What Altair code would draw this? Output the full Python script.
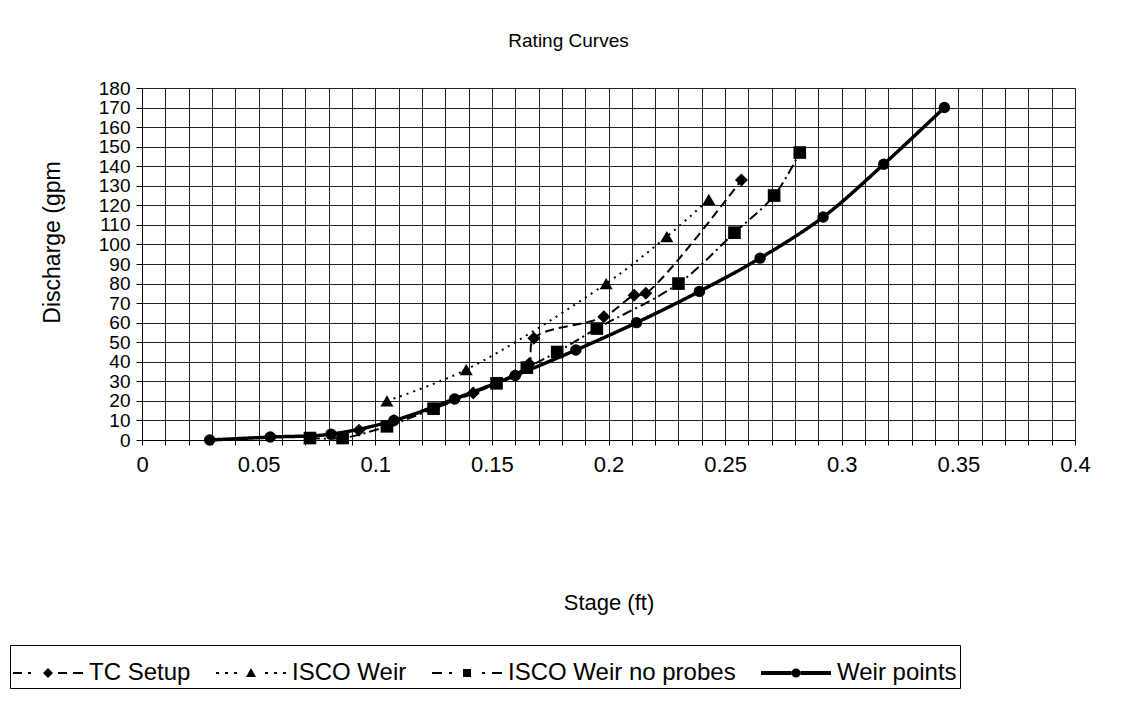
import altair as alt
import pandas as pd

series_names = ["TC Setup", "ISCO Weir", "ISCO Weir no probes", "Weir points"]

tc_stage = [0.093, 0.108, 0.125, 0.142, 0.160, 0.166, 0.168, 0.198, 0.211, 0.216, 0.257]
tc_q = [5, 10, 16, 24, 33, 39, 52, 63, 74, 75, 133]

isco_stage = [0.105, 0.139, 0.199, 0.225, 0.243]
isco_q = [20, 36, 80, 104, 123]

noprobe_stage = [0.072, 0.086, 0.105, 0.125, 0.152, 0.165, 0.178, 0.195, 0.230, 0.254, 0.271, 0.282]
noprobe_q = [1, 1, 7, 16, 29, 37, 45, 57, 80, 106, 125, 147]

weir_stage = [0.029, 0.055, 0.081, 0.108, 0.134, 0.160, 0.186, 0.212, 0.239, 0.265, 0.292, 0.318, 0.344]
weir_q = [0, 1.5, 3, 10, 21, 33, 46, 60, 76, 93, 114, 141, 170]

x_ticks = [round(i * 0.01, 2) for i in range(41)]
y_ticks = list(range(0, 181, 10))

rows = []
for name, xs, ys in [
    ("TC Setup", tc_stage, tc_q),
    ("ISCO Weir", isco_stage, isco_q),
    ("ISCO Weir no probes", noprobe_stage, noprobe_q),
    ("Weir points", weir_stage, weir_q),
]:
    for i, (a, b) in enumerate(zip(xs, ys)):
        rows.append({"series": name, "stage": a, "q": b, "order": i})
df = pd.DataFrame(rows)

FONT = "Liberation Sans"

x_enc = alt.X(
    "stage:Q",
    scale=alt.Scale(domain=[0, 0.4], nice=False, zero=False),
    axis=alt.Axis(
        values=x_ticks,
        labelExpr="abs(datum.value*20 - round(datum.value*20)) < 1e-6 ? format(datum.value, '~g') : ''",
        title="Stage (ft)",
        titlePadding=117,
        titleFontSize=22,
        titleFont=FONT,
        titleFontWeight="normal",
        titleColor="black",
        labelFontSize=22,
        labelFont=FONT,
        labelColor="black",
        labelPadding=9,
        labelOverlap=False,
        labelFlush=False,
        tickSize=5,
        tickColor="black",
        domainColor="black",
        grid=True,
        gridColor="#222222",
        gridWidth=1,
    ),
)
y_enc = alt.Y(
    "q:Q",
    scale=alt.Scale(domain=[0, 180], nice=False),
    axis=alt.Axis(
        values=y_ticks,
        title="Discharge (gpm",
        titleFontSize=23,
        titleFont=FONT,
        titleFontWeight="normal",
        titleColor="black",
        titleAngle=270,
        titleX=-90,
        titleY=154,
        titleAlign="center",
        titleBaseline="middle",
        labelFontSize=19,
        labelFont=FONT,
        labelColor="black",
        labelPadding=6,
        labelOverlap=False,
        tickSize=6,
        tickColor="black",
        domainColor="black",
        grid=True,
        gridColor="#222222",
        gridWidth=1,
    ),
)

marker_shapes = ["diamond", "triangle-up", "square", "circle"]
marker_sizes = [170, 170, 160, 130]
dash_range = [[9, 5], [2, 5], [10, 4, 2, 4], [1, 0]]
width_range = [2, 2, 2, 3.5]

# legend glyph geometry: symbol box is 50 px (half = 25 px = 1 unit);
# the glyph is drawn 70 px wide, from -25 px to +45 px, centred at +10 px
U = 25.0
C = 10.0


def seg(a, b, h=1.0):
    a, b, h = (a + C) / U, (b + C) / U, h / U
    return f"M{a:.4f},{-h:.4f}H{b:.4f}V{h:.4f}H{a:.4f}Z"


def diamond(r=5.0):
    c, r = C / U, r / U
    return f"M{c - r:.4f},0L{c:.4f},{-r:.4f}L{c + r:.4f},0L{c:.4f},{r:.4f}Z"


def triangle(r=5.0):
    c, r = C / U, r / U
    return f"M{c - r:.4f},{0.8 * r:.4f}L{c:.4f},{-r:.4f}L{c + r:.4f},{0.8 * r:.4f}Z"


def square(r=4.0):
    c, r = C / U, r / U
    return f"M{c - r:.4f},{-r:.4f}H{c + r:.4f}V{r:.4f}H{c - r:.4f}Z"


def circle(r=4.5):
    c, r = C / U, r / U
    return f"M{c - r:.4f},0a{r:.4f},{r:.4f} 0 1,0 {2 * r:.4f},0a{r:.4f},{r:.4f} 0 1,0 {-2 * r:.4f},0"


legend_paths = [
    seg(-35, -26) + seg(-20, -17) + diamond() + seg(10, 19) + seg(25, 35),
    seg(-35, -32) + seg(-26, -23) + seg(-17, -14) + triangle()
    + seg(14, 17) + seg(23, 26) + seg(32, 35),
    seg(-35, -25) + seg(-18, -15) + square() + seg(15, 18) + seg(25, 35),
    seg(-35, -4.5, 2) + seg(4.5, 35, 2) + circle(),
]

layers = []
for name, dash, wid in zip(series_names, dash_range, width_range):
    layers.append(
        alt.Chart(df)
        .transform_filter(alt.datum.series == name)
        .mark_line(interpolate="catmull-rom", color="black", strokeDash=dash, strokeWidth=wid)
        .encode(x=x_enc, y=y_enc, order="order:Q")
    )
for name, shp, sz in zip(series_names, marker_shapes, marker_sizes):
    layers.append(
        alt.Chart(df)
        .transform_filter(alt.datum.series == name)
        .mark_point(filled=True, opacity=1, color="black", shape=shp, size=sz)
        .encode(x=x_enc, y=y_enc)
    )

legend = alt.Legend(
    title=None,
    orient="none",
    legendX=-132,
    legendY=557,
    direction="horizontal",
    strokeColor="black",
    padding=3,
    columnPadding=25,
    labelFontSize=24,
    labelFont=FONT,
    labelColor="black",
    labelOffset=26,
    labelLimit=0,
    symbolSize=2500,
    symbolStrokeWidth=0,
    symbolFillColor="black",
)

legend_layer = (
    alt.Chart(df)
    .transform_filter("false")
    .mark_point(filled=True, opacity=1, color="black")
    .encode(
        x=x_enc,
        y=y_enc,
        shape=alt.Shape("series:N", scale=alt.Scale(domain=series_names, range=legend_paths), legend=legend),
    )
)
layers.append(legend_layer)

chart = (
    alt.layer(*layers)
    .properties(
        width=933,
        height=352,
        title=alt.TitleParams(
            "Rating Curves",
            fontSize=19,
            font=FONT,
            fontWeight="normal",
            color="black",
            anchor="middle",
            dx=-40,
            offset=28,
        ),
        autosize=alt.AutoSizeParams(type="none"),
        padding={"left": 134, "top": 80, "right": 47, "bottom": 265},
    )
    .configure_view(stroke="black", strokeWidth=1.5)
    .configure(background="white")
)

chart.save("out.html", embed_options={"renderer": "svg", "actions": False})
